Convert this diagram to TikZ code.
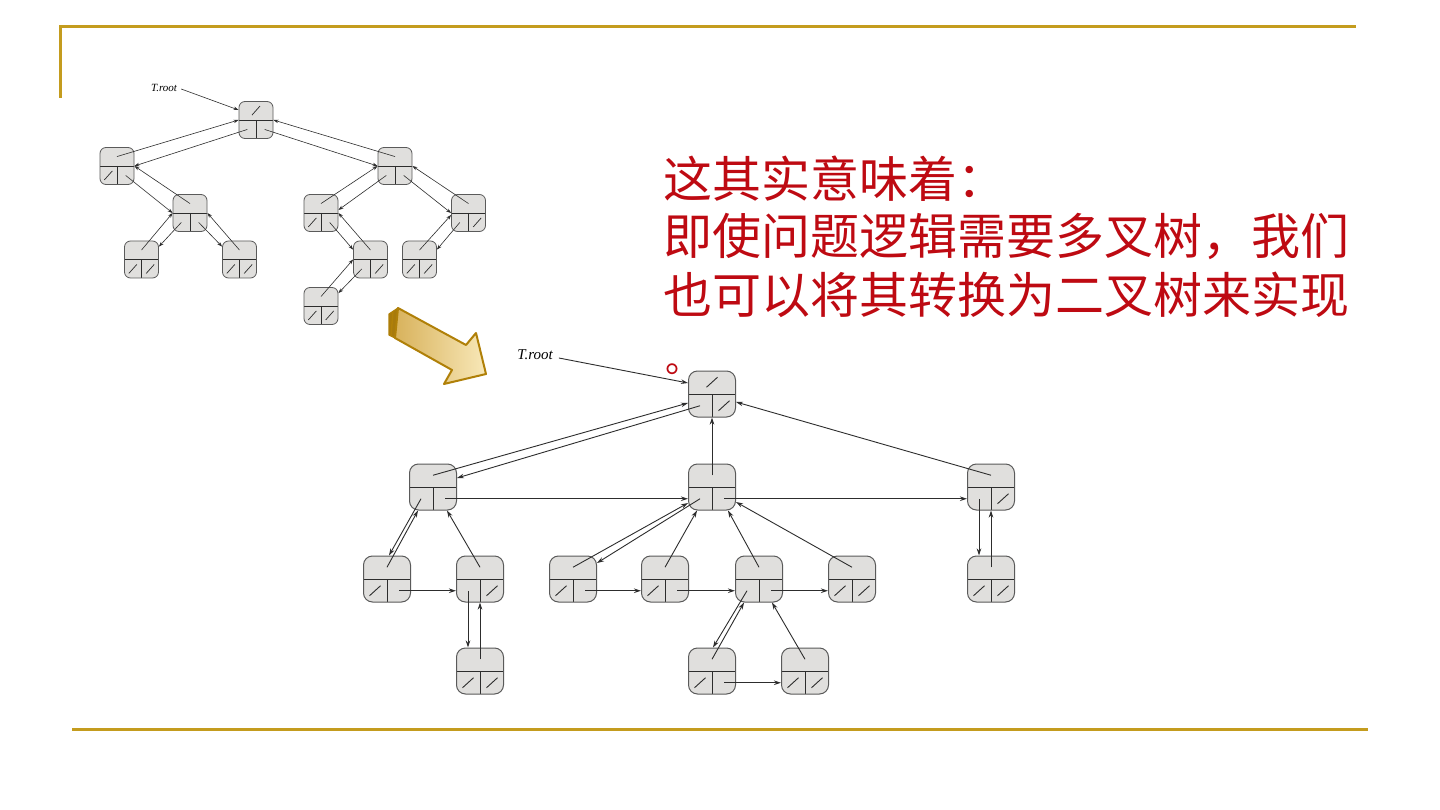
\documentclass[tikz,border=0pt]{standalone}
\usepackage{fontspec}
\newfontfamily\cjk{Noto Sans CJK SC}
\newfontfamily\tms{Liberation Serif}
\usetikzlibrary{arrows.meta,calc}
\definecolor{gold}{RGB}{196,156,30}
\definecolor{nfill}{RGB}{224,223,221}
\definecolor{ndraw}{RGB}{90,90,90}
\definecolor{nline}{RGB}{45,45,45}
\definecolor{ptr}{RGB}{45,45,45}
\definecolor{txtred}{RGB}{190,10,18}
\definecolor{arlight}{RGB}{248,232,184}
\definecolor{ardark}{RGB}{216,178,92}
\definecolor{arline}{RGB}{176,128,8}
\definecolor{arback}{RGB}{168,122,12}
\tikzset{
  tn/.style={draw=ndraw, fill=nfill, rounded corners=6pt, minimum width=34pt, minimum height=37pt,
    inner sep=0pt, line width=0.8pt,
    path picture={\draw[line width=0.8pt, draw=nline]
      (path picture bounding box.west) -- (path picture bounding box.east)
      (path picture bounding box.center) -- (path picture bounding box.south);}},
  bn/.style={draw=ndraw, fill=nfill, rounded corners=9pt, minimum width=47pt, minimum height=46pt,
    inner sep=0pt, line width=1pt,
    path picture={\draw[line width=1pt, draw=nline]
      (path picture bounding box.west) -- (path picture bounding box.east)
      (path picture bounding box.center) -- (path picture bounding box.south);}},
  pT/.style={draw=ptr, line width=0.6pt, -{Stealth[length=5pt,width=3.5pt]}},
  pB/.style={draw=ptr, line width=0.9pt, -{Stealth[length=7pt,width=4.5pt]}},
  slT/.style={draw=nline, line width=0.7pt},
  slB/.style={draw=nline, line width=0.9pt},
  txt/.style={text=txtred, font=\cjk\fontsize{49}{58}\selectfont, inner sep=0pt, anchor=west},
  frame/.style={draw=gold, line width=3pt},
}
\begin{document}
\begin{tikzpicture}[x=1pt,y=-1pt]
\fill[white] (0,0) rectangle (1440,810);
\useasboundingbox (0,0) rectangle (1440,810);
% frame lines
\draw[frame] (60,98) -- (60,27) -- (1356,27);
\draw[frame] (72,729) -- (1368,729);

% ---------- top (binary) tree ----------
\node[tn] (rt)   at (256,120) {};
\node[tn] (L)    at (117,166) {};
\node[tn] (R)    at (395,166) {};
\node[tn] (LR)   at (190,213) {};
\node[tn] (LRL)  at (141.5,259.5) {};
\node[tn] (LRR)  at (239.5,259.5) {};
\node[tn] (RL)   at (321,213) {};
\node[tn] (RR)   at (468.5,213) {};
\node[tn] (RLR)  at (370.5,259.5) {};
\node[tn] (RRL)  at (419.5,259.5) {};
\node[tn] (RLRL) at (321,306) {};

% ---------- bottom (left-child right-sibling) tree ----------
\node[bn] (R0)  at (712,394) {};
\node[bn] (A)   at (433,487) {};
\node[bn] (B)   at (712,487) {};
\node[bn] (C)   at (991,487) {};
\node[bn] (A1)  at (387,579) {};
\node[bn] (A2)  at (480,579) {};
\node[bn] (A2a) at (480,671) {};
\node[bn] (B1)  at (573,579) {};
\node[bn] (B2)  at (665,579) {};
\node[bn] (B3)  at (759,579) {};
\node[bn] (B4)  at (852,579) {};
\node[bn] (B3a) at (712,671) {};
\node[bn] (B3b) at (805,671) {};
\node[bn] (C1)  at (991,579) {};

% cell coordinates
\foreach \n in {rt,L,R,LR,LRL,LRR,RL,RR,RLR,RRL,RLRL,R0,A,B,C,A1,A2,A2a,B1,B2,B3,B4,B3a,B3b,C1}{
  \coordinate (\n-t) at ($(\n.north)!0.5!(\n.center)$);
  \coordinate (\n-l) at ($(\n.south west)!0.5!(\n.center)$);
  \coordinate (\n-r) at ($(\n.south east)!0.5!(\n.center)$);
}

% null marks
\foreach \c in {rt-t,L-l,LRL-l,LRL-r,LRR-l,LRR-r,RL-l,RR-r,RLR-r,RLRL-l,RLRL-r,RRL-l,RRL-r}{
  \draw[slT] ($(\c)+(-4,4.5)$) -- ($(\c)+(4,-4.5)$);
}
\foreach \c in {R0-t,R0-r,A1-l,A2-r,A2a-l,A2a-r,B1-l,B2-l,B4-l,B4-r,B3a-l,B3b-l,B3b-r,C-r,C1-l,C1-r}{
  \draw[slB] ($(\c)+(-5.5,5)$) -- ($(\c)+(5.5,-5)$);
}

% top tree pointers
\node[font=\tms\itshape\fontsize{11}{13}\selectfont, inner sep=1pt] (tr1) at (164,88) {T.root};
\draw[pT] ($(tr1.east)+(3,1)$) -- ($(rt.west)+(0,-10)$);
\draw[pT] (L-t) -- (rt.west);
\draw[pT] (rt-l) -- (L.east);
\draw[pT] (R-t) -- (rt.east);
\draw[pT] (rt-r) -- (R.west);
\draw[pT] (L-r) -- (LR.west);
\draw[pT] (LR-t) -- (L.east);
\draw[pT] (LR-l) -- ($(LRL.north east)+(0,6)$);
\draw[pT] (LRL-t) -- (LR.west);
\draw[pT] (LR-r) -- ($(LRR.north west)+(0,6)$);
\draw[pT] (LRR-t) -- (LR.east);
\draw[pT] (R-l) -- ($(RL.east)+(0,-3)$);
\draw[pT] (RL-t) -- (R.west);
\draw[pT] (R-r) -- (RR.west);
\draw[pT] (RR-t) -- (R.east);
\draw[pT] (RL-r) -- ($(RLR.north west)+(0,9)$);
\draw[pT] (RLR-t) -- (RL.east);
\draw[pT] (RLR-l) -- ($(RLRL.north east)+(0,6)$);
\draw[pT] (RLRL-t) -- (RLR.west);
\draw[pT] (RR-l) -- ($(RRL.north east)+(0,9)$);
\draw[pT] (RRL-t) -- ($(RR.west)+(0,2)$);

% bottom tree pointers
\node[font=\tms\itshape\fontsize{15}{17}\selectfont, inner sep=1pt] (tr2) at (535,355) {T.root};
\draw[pB] ($(tr2.east)+(5,3)$) -- ($(R0.west)+(0,-11)$);
\draw[pB] (A-t) -- ($(R0.west)+(0,9)$);
\draw[pB] (R0-l) -- ($(A.east)+(0,-9)$);
\draw[pB] (B-t) -- (R0.south);
\draw[pB] (C-t) -- ($(R0.east)+(0,8)$);
\draw[pB] (A1-t) -- ($(A.south)+(-15,0)$);
\draw[pB] (A-l) -- ($(A1.north)+(2,0)$);
\draw[pB] (A-r) -- (B.west |- A-r);
\draw[pB] (A2-t) -- ($(A.south)+(14,0)$);
\draw[pB] (A1-r) -- (A2.west |- A1-r);
\draw[pB] (A2-l) -- (A2-l |- A2a.north);
\draw[pB] (A2a-t) -- (A2.south);
\draw[pB] (B1-t) -- ($(B.west)+(0,16)$);
\draw[pB] (B-l) -- ($(B1.east)+(0,-16)$);
\draw[pB] (B2-t) -- ($(B.south)+(-15,0)$);
\draw[pB] (B3-t) -- ($(B.south)+(16,0)$);
\draw[pB] (B4-t) -- ($(B.east)+(0,15)$);
\draw[pB] (B-r) -- (C.west |- B-r);
\draw[pB] (B1-r) -- (B2.west |- B1-r);
\draw[pB] (B2-r) -- (B3.west |- B2-r);
\draw[pB] (B3-r) -- (B4.west |- B3-r);
\draw[pB] (B3-l) -- ($(B3a.north)+(1,0)$);
\draw[pB] (B3a-t) -- ($(B3.south)+(-15,0)$);
\draw[pB] (B3b-t) -- ($(B3.south)+(13,0)$);
\draw[pB] (B3a-r) -- (B3b.west |- B3a-r);
\draw[pB] (C-l) -- (C-l |- C1.north);
\draw[pB] (C1-t) -- (C.south);

% big 3D arrow
\fill[arback, draw=arline, line width=1.2pt, line join=round] (389,314) -- (398,308) -- (395,338) -- (389,335) -- cycle;
\draw[arline, line width=1.5pt] (393,312) -- (391,336);
\shade[left color=ardark, right color=arlight, draw=arline, line width=2pt, line join=round]
  (398,308) -- (466,345) -- (476,333) -- (486,374) -- (444,384) -- (452,370) -- (395,338) -- cycle;

% text
\node[txt] (t1) at (663,178.5) {这其实意味着：};
\node[txt] (t2) at (663,236.5) {即使问题逻辑需要多叉树，我们};
\node[txt] (t3) at (663,295) {也可以将其转换为二叉树来实现};
\node[text=txtred, font=\cjk\fontsize{36}{40}\selectfont, inner sep=0pt, anchor=west] (t4) at (665,369) {。};
\end{tikzpicture}
\end{document}
